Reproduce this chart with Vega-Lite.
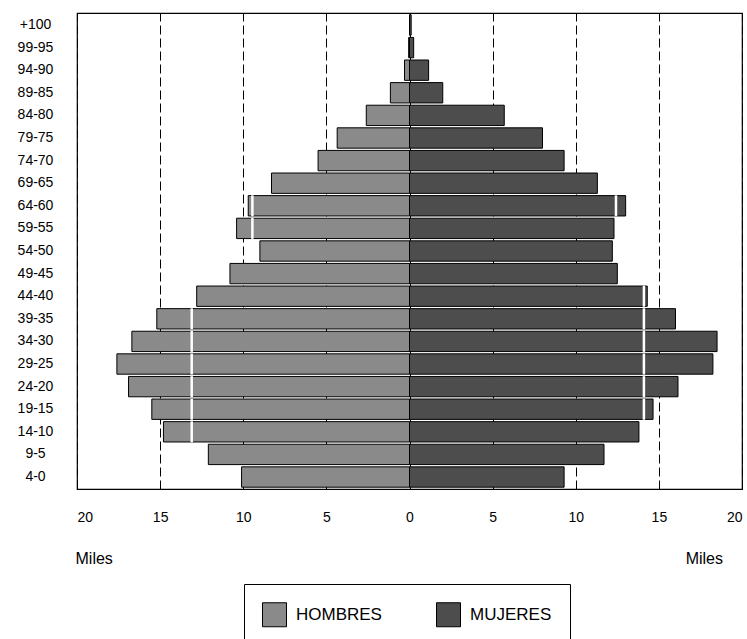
{
  "$schema": "https://vega.github.io/schema/vega-lite/v6.json",
  "autosize": {"type": "none"},
  "padding": {"left": 77, "top": 13, "right": 5, "bottom": 150},
  "width": 665,
  "height": 476,
  "config": {
    "font": "Liberation Sans",
    "view": {"stroke": "#000", "strokeWidth": 1.2},
    "title": {"fontWeight": "normal", "color": "#000"}
  },
  "title": {"text": "Miles", "orient": "bottom", "anchor": "end", "frame": "group", "fontSize": 16, "dx": -19, "dy": -97, "offset": 0},
  "datasets": {
    "pop": [
      {"edad": "+100", "sexo": "HOMBRES", "miles": 0},
      {"edad": "+100", "sexo": "MUJERES", "miles": 0.1},
      {"edad": "99-95", "sexo": "HOMBRES", "miles": -0.05},
      {"edad": "99-95", "sexo": "MUJERES", "miles": 0.25},
      {"edad": "94-90", "sexo": "HOMBRES", "miles": -0.3},
      {"edad": "94-90", "sexo": "MUJERES", "miles": 1.15},
      {"edad": "89-85", "sexo": "HOMBRES", "miles": -1.15},
      {"edad": "89-85", "sexo": "MUJERES", "miles": 2.0},
      {"edad": "84-80", "sexo": "HOMBRES", "miles": -2.6},
      {"edad": "84-80", "sexo": "MUJERES", "miles": 5.7},
      {"edad": "79-75", "sexo": "HOMBRES", "miles": -4.35},
      {"edad": "79-75", "sexo": "MUJERES", "miles": 8.0},
      {"edad": "74-70", "sexo": "HOMBRES", "miles": -5.5},
      {"edad": "74-70", "sexo": "MUJERES", "miles": 9.3},
      {"edad": "69-65", "sexo": "HOMBRES", "miles": -8.3},
      {"edad": "69-65", "sexo": "MUJERES", "miles": 11.3},
      {"edad": "64-60", "sexo": "HOMBRES", "miles": -9.7},
      {"edad": "64-60", "sexo": "MUJERES", "miles": 13.0},
      {"edad": "59-55", "sexo": "HOMBRES", "miles": -10.4},
      {"edad": "59-55", "sexo": "MUJERES", "miles": 12.3},
      {"edad": "54-50", "sexo": "HOMBRES", "miles": -9.0},
      {"edad": "54-50", "sexo": "MUJERES", "miles": 12.2},
      {"edad": "49-45", "sexo": "HOMBRES", "miles": -10.8},
      {"edad": "49-45", "sexo": "MUJERES", "miles": 12.5},
      {"edad": "44-40", "sexo": "HOMBRES", "miles": -12.8},
      {"edad": "44-40", "sexo": "MUJERES", "miles": 14.3},
      {"edad": "39-35", "sexo": "HOMBRES", "miles": -15.2},
      {"edad": "39-35", "sexo": "MUJERES", "miles": 16.0},
      {"edad": "34-30", "sexo": "HOMBRES", "miles": -16.7},
      {"edad": "34-30", "sexo": "MUJERES", "miles": 18.5},
      {"edad": "29-25", "sexo": "HOMBRES", "miles": -17.6},
      {"edad": "29-25", "sexo": "MUJERES", "miles": 18.25},
      {"edad": "24-20", "sexo": "HOMBRES", "miles": -16.9},
      {"edad": "24-20", "sexo": "MUJERES", "miles": 16.15},
      {"edad": "19-15", "sexo": "HOMBRES", "miles": -15.5},
      {"edad": "19-15", "sexo": "MUJERES", "miles": 14.65},
      {"edad": "14-10", "sexo": "HOMBRES", "miles": -14.8},
      {"edad": "14-10", "sexo": "MUJERES", "miles": 13.8},
      {"edad": "9-5", "sexo": "HOMBRES", "miles": -12.1},
      {"edad": "9-5", "sexo": "MUJERES", "miles": 11.7},
      {"edad": "4-0", "sexo": "HOMBRES", "miles": -10.1},
      {"edad": "4-0", "sexo": "MUJERES", "miles": 9.3}
    ],
    "cortes": [
      {"edad": "64-60", "miles": -9.45},
      {"edad": "59-55", "miles": -9.45},
      {"edad": "39-35", "miles": -13.1},
      {"edad": "34-30", "miles": -13.1},
      {"edad": "29-25", "miles": -13.1},
      {"edad": "24-20", "miles": -13.1},
      {"edad": "19-15", "miles": -13.1},
      {"edad": "14-10", "miles": -13.1},
      {"edad": "64-60", "miles": 12.42},
      {"edad": "44-40", "miles": 14.1},
      {"edad": "39-35", "miles": 14.1},
      {"edad": "34-30", "miles": 14.1},
      {"edad": "29-25", "miles": 14.1},
      {"edad": "24-20", "miles": 14.1},
      {"edad": "19-15", "miles": 14.1}
    ]
  },
  "layer": [
    {
      "data": {"name": "pop"},
      "mark": {"type": "bar", "stroke": "#000", "strokeWidth": 1},
      "encoding": {
        "y": {
          "field": "edad", "type": "nominal", "sort": null,
          "scale": {"paddingInner": 0.1, "paddingOuter": 0.08},
          "axis": {"title": null, "domain": false, "ticks": false, "tickSize": 0, "labelAlign": "center", "labelPadding": 42, "labelFontSize": 14, "labelColor": "#000", "labelFont": "Liberation Sans"}
        },
        "x": {
          "field": "miles", "type": "quantitative",
          "scale": {"domain": [-20, 20], "nice": false, "zero": false},
          "axis": {
            "values": [-20, -15, -10, -5, 0, 5, 10, 15, 20],
            "labelExpr": "abs(datum.value)",
            "domain": false, "ticks": false, "tickSize": 0,
            "labelPadding": 21, "labelDx": -4, "labelFontSize": 14, "labelColor": "#000", "labelFont": "Liberation Sans",
            "grid": true, "gridColor": "#000", "gridOpacity": 1, "gridWidth": 1,
            "gridDash": {"condition": {"test": "datum.value === 0", "value": []}, "value": [9, 4]},
            "title": "Miles", "titleFontSize": 16, "titleFontWeight": "normal", "titleColor": "#000",
            "titleAnchor": "start", "titleAlign": "left", "titleX": -2, "titleY": 69, "titleBaseline": "middle"
          }
        },
        "color": {
          "field": "sexo", "type": "nominal",
          "scale": {"domain": ["HOMBRES", "MUJERES"], "range": ["#8a8a8a", "#4d4d4d"]},
          "legend": {
            "orient": "none", "legendX": 167, "legendY": 571, "direction": "horizontal", "columns": 2,
            "title": null, "symbolType": "square", "symbolSize": 576, "symbolStrokeColor": "#000", "symbolStrokeWidth": 1,
            "labelFontSize": 17, "labelOffset": 9, "columnPadding": 52, "padding": 18, "gridAlign": "all",
            "strokeColor": "#000", "labelColor": "#000", "labelFont": "Liberation Sans"
          }
        }
      }
    },
    {
      "data": {"name": "cortes"},
      "mark": {"type": "tick", "color": "#fff", "thickness": 2.5, "size": 21, "opacity": 1},
      "encoding": {
        "y": {"field": "edad", "type": "nominal", "sort": null},
        "x": {"field": "miles", "type": "quantitative"}
      }
    }
  ]
}
